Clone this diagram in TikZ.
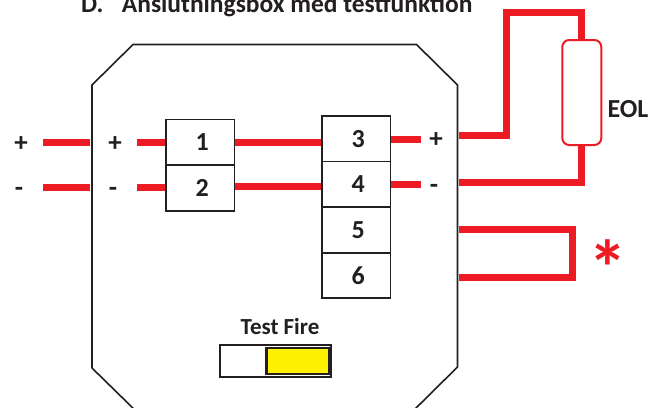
\documentclass[tikz,border=0pt]{standalone}
\usepackage{fontspec}
\setmainfont{Carlito}
\definecolor{wire}{HTML}{ED1C24}
\definecolor{ink}{HTML}{231F20}
\definecolor{sw}{HTML}{FFF200}
\newcommand{\termnum}[1]{\kern4pt\raisebox{-1.5pt}{#1}}
\tikzset{
  wireline/.style={draw=wire,line width=7pt,line cap=butt,line join=miter},
  term/.style={draw=ink,line width=1.6pt,minimum width=68.5pt,minimum height=45.5pt,inner sep=0pt,font=\fontsize{26}{26}\bfseries,text=ink},
  lab/.style={font=\fontsize{27}{27}\bfseries,text=ink,inner sep=0pt},
}
\begin{document}
\begin{tikzpicture}[x=1pt,y=-1pt]
\useasboundingbox (0,0) rectangle (666,407);
\clip (0,0) rectangle (666,407);
\fill[white] (0,0) rectangle (666,407);
\node[anchor=base west,inner sep=0pt,text=ink,font=\fontsize{25.5}{25.5}\bfseries] (title) at (81,12.3) {\makebox[40.7pt][l]{D.}Anslutningsbox med testfunktion};
\draw[ink,line width=1.6pt,line join=miter] (92,368) -- (92,85) -- (133,44.5) -- (416.5,44.5) -- (457.5,85) -- (457.5,367) -- (410,414) (92,368) -- (139,414);
% terminals
\node[term] (t1) at (200.25,142.25) {\termnum{1}};
\node[term] (t2) at (200.25,188) {\termnum{2}};
\node[term] (t3) at (356.25,138.75) {\termnum{3}};
\node[term] (t4) at (356.25,184.25) {\termnum{4}};
\node[term] (t5) at (356.25,230) {\termnum{5}};
\node[term] (t6) at (356.25,275.5) {\termnum{6}};
% free ends
\coordinate (ap) at (43,142); \coordinate (bp) at (90,142);
\coordinate (am) at (43,187.5); \coordinate (bm) at (90,187.5);
\coordinate (cp) at (137,142); \coordinate (cm) at (137,187.5);
\coordinate (dp) at (421,139); \coordinate (dm) at (421,184.5);
\draw[wireline] (ap) -- (bp);
\draw[wireline] (am) -- (bm);
\draw[wireline] (cp) -- (t1.west |- cp);
\draw[wireline] (cm) -- (t2.west |- cm);
\draw[wireline] (t1.east |- 0,142) -- (t3.west |- 0,142);
\draw[wireline] (t2.east |- 0,186) -- (t4.west |- 0,186);
\draw[wireline] (t3.east |- dp) -- (dp);
\draw[wireline] (t4.east |- dm) -- (dm);
% EOL
\node[draw=wire,line width=2pt,rounded corners=7pt,minimum width=39pt,minimum height=105pt,inner sep=0pt] (eol) at (581.8,92.5) {};
\node[lab,font=\fontsize{26}{26}\bfseries,anchor=center] (eoltxt) at (628,109) {EOL};
\coordinate (o1) at (459,135); \coordinate (o2) at (459,182);
\draw[wireline] (o1) -- (506.5,135) -- (506.5,12.3) -- (eol.north |- 0,12.3) -- (eol.north);
\draw[wireline] (o2) -- (eol.south |- o2) -- (eol.south);
% loop
\coordinate (l1) at (459,229.6); \coordinate (l2) at (459,277);
\draw[wireline] (l1) -- (572.5,229.6) -- (572.5,277) -- (l2);
\node[inner sep=0pt,text=wire,font=\fontsize{78}{78}\bfseries,anchor=center] (star) at (608,268) {*};
% labels
\node[lab] (p1) at (21,144.5) {+};
\node[lab] (m1) at (19,192) {-};
\node[lab] (p2) at (115,144.5) {+};
\node[lab] (m2) at (113,192) {-};
\node[lab] (p3) at (436,140.5) {+};
\node[lab] (m3) at (434,189) {-};
% switch
\node[lab,font=\fontsize{23}{23}\bfseries] (tf) at (280,327) {Test Fire};
\node[draw=ink,line width=1.6pt,minimum width=111pt,minimum height=32pt,inner sep=0pt] (sw1) at (275.2,361) {};
\node[draw=ink,fill=sw,line width=2.6pt,minimum width=63pt,minimum height=26pt,inner sep=0pt] (sw2) at (297.7,361) {};
\end{tikzpicture}
\end{document}
